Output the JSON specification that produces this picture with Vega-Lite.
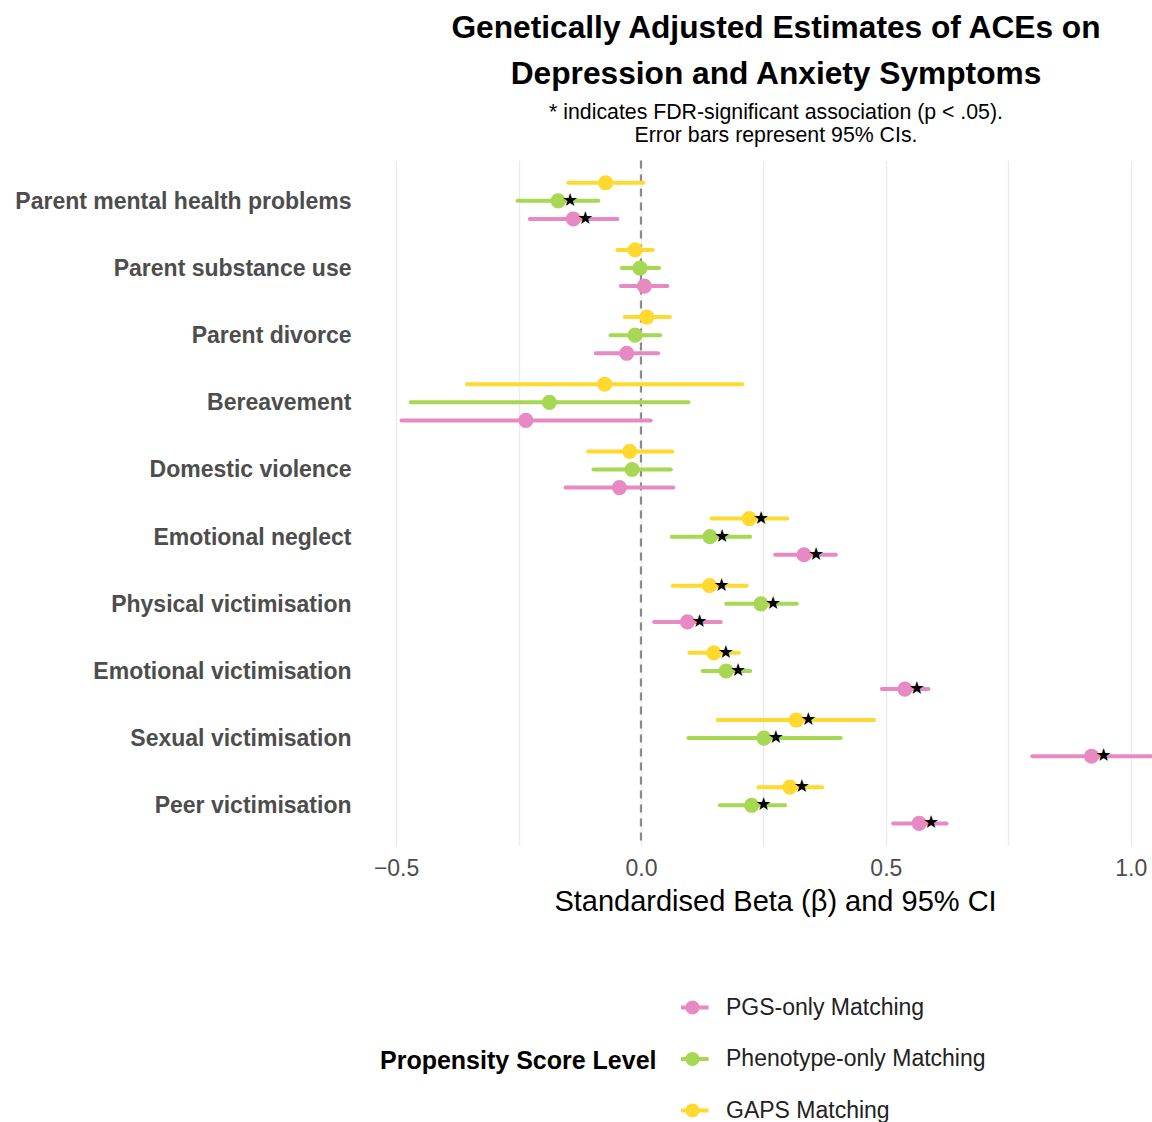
{
  "$schema": "https://vega.github.io/schema/vega-lite/v6.json",
  "width": 788,
  "height": 685,
  "autosize": {"type": "none"},
  "padding": {"left": 364, "top": 160.5, "right": 0, "bottom": 276.5},
  "background": "white",
  "config": {
    "view": {"stroke": null},
    "font": "Liberation Sans",
    "axisX": {
      "grid": true,
      "gridColor": "#EBEBEB",
      "gridWidth": 1.4,
      "domain": false,
      "ticks": false,
      "tickSize": 0,
      "labelFontSize": 23,
      "labelColor": "#4D4D4D",
      "labelPadding": 12,
      "labelFlush": false,
      "titleFontSize": 29,
      "titleFontWeight": "normal",
      "titleColor": "black",
      "titlePadding": 7,
      "titleX": 411
    }
  },
  "title": {
    "text": ["Genetically Adjusted Estimates of ACEs on", "Depression and Anxiety Symptoms"],
    "subtitle": ["* indicates FDR-significant association (p < .05).", "Error bars represent 95% CIs."],
    "anchor": "middle",
    "dx": 18,
    "fontSize": 31.7,
    "fontWeight": "bold",
    "lineHeight": 46,
    "color": "black",
    "subtitleFontSize": 21.3,
    "subtitleLineHeight": 23,
    "subtitleColor": "black",
    "subtitlePadding": 11,
    "offset": 13
  },
  "data": {
    "values": [
      {"ace": "Parent mental health problems", "level": "GAPS Matching", "est": -0.072, "lo": -0.148, "hi": 0.005, "sig": false},
      {"ace": "Parent mental health problems", "level": "Phenotype-only Matching", "est": -0.169, "lo": -0.252, "hi": -0.087, "sig": true},
      {"ace": "Parent mental health problems", "level": "PGS-only Matching", "est": -0.138, "lo": -0.227, "hi": -0.048, "sig": true},
      {"ace": "Parent substance use", "level": "GAPS Matching", "est": -0.012, "lo": -0.048, "hi": 0.024, "sig": false},
      {"ace": "Parent substance use", "level": "Phenotype-only Matching", "est": -0.002, "lo": -0.039, "hi": 0.037, "sig": false},
      {"ace": "Parent substance use", "level": "PGS-only Matching", "est": 0.007, "lo": -0.041, "hi": 0.054, "sig": false},
      {"ace": "Parent divorce", "level": "GAPS Matching", "est": 0.012, "lo": -0.033, "hi": 0.059, "sig": false},
      {"ace": "Parent divorce", "level": "Phenotype-only Matching", "est": -0.012, "lo": -0.062, "hi": 0.039, "sig": false},
      {"ace": "Parent divorce", "level": "PGS-only Matching", "est": -0.029, "lo": -0.092, "hi": 0.035, "sig": false},
      {"ace": "Bereavement", "level": "GAPS Matching", "est": -0.074, "lo": -0.355, "hi": 0.207, "sig": false},
      {"ace": "Bereavement", "level": "Phenotype-only Matching", "est": -0.187, "lo": -0.47, "hi": 0.097, "sig": false},
      {"ace": "Bereavement", "level": "PGS-only Matching", "est": -0.235, "lo": -0.489, "hi": 0.02, "sig": false},
      {"ace": "Domestic violence", "level": "GAPS Matching", "est": -0.023, "lo": -0.108, "hi": 0.064, "sig": false},
      {"ace": "Domestic violence", "level": "Phenotype-only Matching", "est": -0.018, "lo": -0.097, "hi": 0.061, "sig": false},
      {"ace": "Domestic violence", "level": "PGS-only Matching", "est": -0.044, "lo": -0.154, "hi": 0.066, "sig": false},
      {"ace": "Emotional neglect", "level": "GAPS Matching", "est": 0.221, "lo": 0.144, "hi": 0.299, "sig": true},
      {"ace": "Emotional neglect", "level": "Phenotype-only Matching", "est": 0.141, "lo": 0.063, "hi": 0.223, "sig": true},
      {"ace": "Emotional neglect", "level": "PGS-only Matching", "est": 0.333, "lo": 0.274, "hi": 0.398, "sig": true},
      {"ace": "Physical victimisation", "level": "GAPS Matching", "est": 0.14, "lo": 0.065, "hi": 0.216, "sig": true},
      {"ace": "Physical victimisation", "level": "Phenotype-only Matching", "est": 0.245, "lo": 0.174, "hi": 0.318, "sig": true},
      {"ace": "Physical victimisation", "level": "PGS-only Matching", "est": 0.095, "lo": 0.027, "hi": 0.163, "sig": true},
      {"ace": "Emotional victimisation", "level": "GAPS Matching", "est": 0.149, "lo": 0.099, "hi": 0.2, "sig": true},
      {"ace": "Emotional victimisation", "level": "Phenotype-only Matching", "est": 0.174, "lo": 0.126, "hi": 0.223, "sig": true},
      {"ace": "Emotional victimisation", "level": "PGS-only Matching", "est": 0.539, "lo": 0.492, "hi": 0.587, "sig": true},
      {"ace": "Sexual victimisation", "level": "GAPS Matching", "est": 0.317, "lo": 0.157, "hi": 0.476, "sig": true},
      {"ace": "Sexual victimisation", "level": "Phenotype-only Matching", "est": 0.251, "lo": 0.097, "hi": 0.408, "sig": true},
      {"ace": "Sexual victimisation", "level": "PGS-only Matching", "est": 0.92, "lo": 0.799, "hi": 1.041, "sig": true},
      {"ace": "Peer victimisation", "level": "GAPS Matching", "est": 0.304, "lo": 0.24, "hi": 0.37, "sig": true},
      {"ace": "Peer victimisation", "level": "Phenotype-only Matching", "est": 0.226, "lo": 0.161, "hi": 0.294, "sig": true},
      {"ace": "Peer victimisation", "level": "PGS-only Matching", "est": 0.568, "lo": 0.515, "hi": 0.624, "sig": true}
    ]
  },
  "layer": [
    {
      "data": {"values": [{"ref": 0}]},
      "mark": {"type": "rule", "color": "#8A8A8A", "strokeWidth": 2.2, "strokeDash": [8, 6]},
      "encoding": {
        "x": {
          "field": "ref",
          "type": "quantitative",
          "title": "Standardised Beta (β) and 95% CI",
          "scale": {"domain": [-0.5655, 1.0435], "nice": false, "zero": false},
          "axis": {
            "title": "Standardised Beta (β) and 95% CI",
            "values": [-0.5, -0.25, 0, 0.25, 0.5, 0.75, 1],
            "labelExpr": "abs(datum.value * 2 - round(datum.value * 2)) < 0.001 ? format(datum.value, '.1f') : ''"
          }
        }
      }
    },
    {
      "encoding": {
        "y": {
          "field": "ace",
          "type": "nominal",
          "sort": [
            "Parent mental health problems",
            "Parent substance use",
            "Parent divorce",
            "Bereavement",
            "Domestic violence",
            "Emotional neglect",
            "Physical victimisation",
            "Emotional victimisation",
            "Sexual victimisation",
            "Peer victimisation"
          ],
          "scale": {"type": "band", "paddingInner": 0, "paddingOuter": 0.1},
          "axis": {
            "title": null,
            "domain": false,
            "ticks": false,
            "tickSize": 0,
            "grid": false,
            "labelFontSize": 23,
            "labelFontWeight": "bold",
            "labelColor": "#4D4D4D",
            "labelPadding": 13,
            "labelOffset": 1,
            "labelLimit": 400
          }
        },
        "yOffset": {
          "field": "level",
          "type": "nominal",
          "sort": ["GAPS Matching", "Phenotype-only Matching", "PGS-only Matching"],
          "scale": {"type": "band", "paddingInner": 0, "paddingOuter": 0, "range": [6.5, 60.8]}
        },
        "color": {
          "field": "level",
          "type": "nominal",
          "scale": {
            "domain": ["PGS-only Matching", "Phenotype-only Matching", "GAPS Matching"],
            "range": ["#E78AC3", "#A6D854", "#FFD92F"]
          },
          "legend": {
            "title": "Propensity Score Level",
            "orient": "none",
            "legendX": 16,
            "legendY": 837,
            "direction": "vertical",
            "padding": 0,
            "titleOrient": "left",
            "titleAnchor": "middle",
            "titleBaseline": "middle",
            "titleFontSize": 25,
            "titleFontWeight": "bold",
            "titleColor": "black",
            "titlePadding": 24,
            "titleLimit": 400,
            "labelFontSize": 23,
            "labelColor": "#222222",
            "labelOffset": 22,
            "labelLimit": 400,
            "symbolType": "M-2.3,-0.27H2.3V0.27H-2.3Z M1,0A1,1,0,1,1,-1,0A1,1,0,1,1,1,0Z",
            "symbolSize": 196,
            "symbolStrokeWidth": 0,
            "clipHeight": 20,
            "rowPadding": 28.5
          }
        }
      },
      "layer": [
        {
          "mark": {"type": "rule", "strokeWidth": 4, "strokeCap": "round"},
          "encoding": {
            "x": {"field": "lo", "type": "quantitative", "title": "Standardised Beta (β) and 95% CI"},
            "x2": {"field": "hi"}
          }
        },
        {
          "mark": {"type": "point", "filled": true, "opacity": 1, "size": 230, "strokeWidth": 0},
          "encoding": {
            "x": {"field": "est", "type": "quantitative", "title": "Standardised Beta (β) and 95% CI"}
          }
        },
        {
          "transform": [{"filter": "datum.sig"}],
          "mark": {"type": "text", "text": "★", "font": "DejaVu Sans", "fontSize": 18, "dx": 12, "align": "center", "baseline": "middle"},
          "encoding": {
            "x": {"field": "est", "type": "quantitative", "title": "Standardised Beta (β) and 95% CI"},
            "color": {"value": "black"}
          }
        }
      ]
    }
  ]
}
